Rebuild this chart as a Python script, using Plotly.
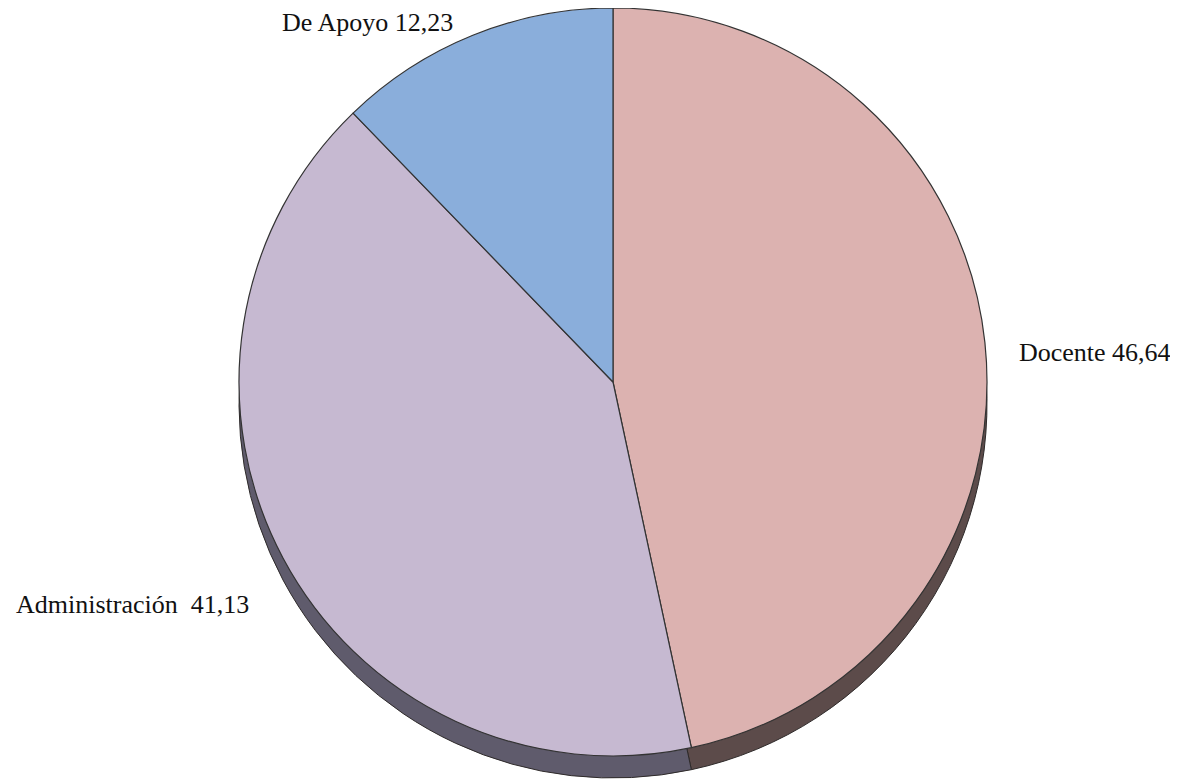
import plotly.graph_objects as go

categories = ["Docente", "Administración", "De Apoyo"]
values = [46.64, 41.13, 12.23]
label_texts = ["Docente 46,64", "Administración\u00a0 41,13", "De Apoyo 12,23"]

top_colors = ["#dcb2b0", "#c6b9d1", "#8aaedb"]
side_colors = ["#5c4b4a", "#5f5b6c", "#4c5b72"]

W, H = 1178, 783
OFF = 8  # page body margin offset
r = 374
cx, cy = 613 - OFF, r
depth = 22

def dom(cx, cy, r):
    return dict(x=[max(0, (cx - r) / W), min(1, (cx + r) / W)],
                y=[max(0, 1 - (cy + r) / H), min(1, 1 - (cy - r) / H)])

fig = go.Figure()
# side (3D thickness)
fig.add_trace(go.Pie(
    labels=categories, values=values, sort=False, direction="clockwise",
    rotation=0, textinfo="none", hoverinfo="skip",
    marker=dict(colors=side_colors, line=dict(color="#2e2a2a", width=1)),
    domain=dom(cx, cy + depth, r), showlegend=False,
))
# top face
fig.add_trace(go.Pie(
    labels=categories, values=values, sort=False, direction="clockwise",
    rotation=0, textinfo="none",
    marker=dict(colors=top_colors, line=dict(color="#333333", width=1.2)),
    domain=dom(cx, cy, r), showlegend=False,
))

label_pos = {"Docente": (1095, 353), "Administración": (132, 604), "De Apoyo": (367, 22)}
for cat, txt in zip(categories, label_texts):
    px, py = label_pos[cat]
    fig.add_annotation(x=(px - OFF) / W, y=1 - (py - OFF) / H, xref="paper", yref="paper",
                       text=txt, showarrow=False, xanchor="center", yanchor="middle",
                       font=dict(family="Liberation Serif", size=26, color="#111111"))

fig.update_layout(width=W, height=H, margin=dict(l=0, r=0, t=0, b=0),
                  paper_bgcolor="white", plot_bgcolor="white")
fig.write_html("out.html")
